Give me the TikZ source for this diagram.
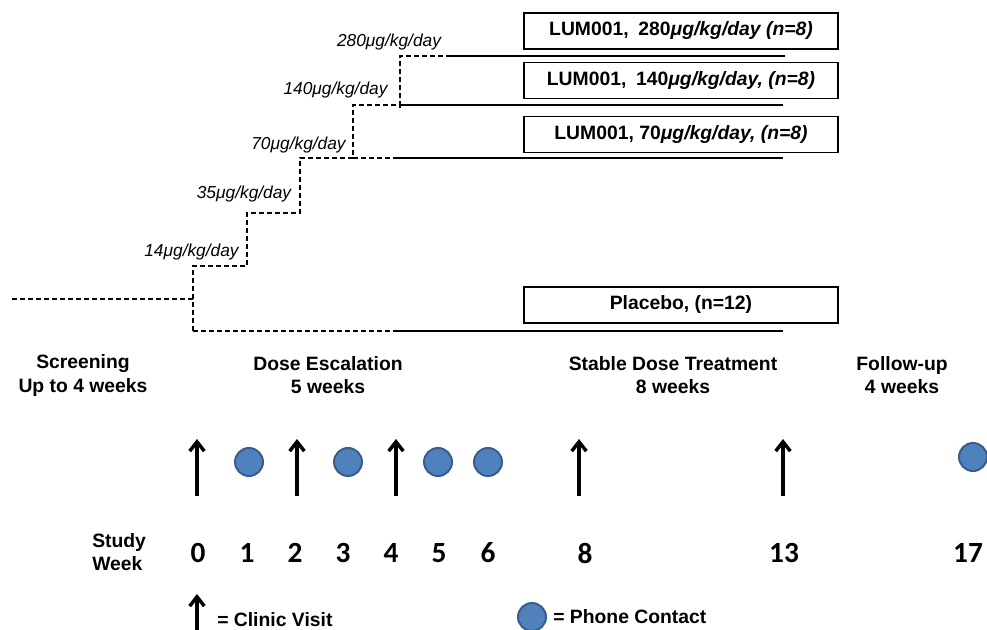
\documentclass[tikz,border=0pt]{standalone}
\usepackage{fontspec}
\setmainfont{Liberation Sans}
\newfontfamily\calib{Carlito}
\usetikzlibrary{arrows.meta}
\definecolor{phonefill}{RGB}{79,129,189}
\definecolor{phonedraw}{RGB}{56,93,138}
\begin{document}
\begin{tikzpicture}[x=0.75pt,y=-0.75pt,
  armbox/.style={draw, line width=1.3pt, minimum width=235.5pt, minimum height=27pt, inner sep=0pt,
    font=\fontsize{14.5}{17}\selectfont\bfseries},
  dosel/.style={font=\fontsize{13}{15}\selectfont\itshape, inner sep=0pt},
  phase/.style={font=\fontsize{14.5}{17.3}\selectfont\bfseries, align=center, inner sep=0pt},
  wk/.style={font=\calib\fontsize{22}{24}\selectfont\bfseries, inner sep=0pt},
  legend/.style={font=\fontsize{14.5}{17}\selectfont\bfseries, inner sep=0pt, anchor=west},
  stepline/.style={line width=1.1pt, dash pattern=on 4pt off 2pt},
  armline/.style={line width=1.2pt},
  visit/.style={line width=3.4pt, -{Straight Barb[length=7pt,width=11pt,line width=2.6pt]}},
  phone/.style={circle, fill=phonefill, draw=phonedraw, line width=1.5pt, minimum size=21pt, inner sep=0pt}]
\useasboundingbox (0,0) rectangle (987,630);

% arm boxes
\node[armbox] (b280) at (681,31) {LUM001,\enspace 280\textit{μg/kg/day (n=8)}};
\node[armbox] (b140) at (681,80.5) {LUM001,\enspace 140\textit{μg/kg/day, (n=8)}};
\node[armbox] (b70) at (681,134.5) {LUM001, 70\textit{μg/kg/day, (n=8)}};
\node[armbox] (bpl) at (681,305) {Placebo, (n=12)};

% step coordinates
\coordinate (scr) at (12,299);
\coordinate (p0) at (193,299);
\coordinate (pb) at (193,331);
\coordinate (q1) at (193,266);
\coordinate (q2) at (247,266);
\coordinate (q3) at (247,213);
\coordinate (q4) at (300,213);
\coordinate (q5) at (300,158);
\coordinate (q6) at (353,158);
\coordinate (q7) at (353,105);
\coordinate (q8) at (400,105);
\coordinate (q9) at (400,56);
\coordinate (q10) at (447,56);
\coordinate (q8b) at (400,108);
\coordinate (e280) at (785,56);
\coordinate (e140) at (783,105);
\coordinate (m70) at (395,158);
\coordinate (e70) at (783,158);
\coordinate (mpl) at (395,331);
\coordinate (epl) at (783,331);

\draw[stepline] (scr) -- (p0);
\draw[stepline] (pb) -- (q1) -- (q2) -- (q3) -- (q4) -- (q5) -- (q6) -- (q7) -- (q8) -- (q9) -- (q10);
\draw[stepline] (q8) -- (q8b);
\draw[stepline] (q6) -- (m70);
\draw[stepline] (pb) -- (mpl);
\draw[armline] (q10) -- (e280);
\draw[armline] (q8) -- (e140);
\draw[armline] (m70) -- (e70);
\draw[armline] (mpl) -- (epl);

% dose labels
\node[dosel] (d280) at (389,42) {280μg/kg/day};
\node[dosel] (d140) at (335.5,90) {140μg/kg/day};
\node[dosel] (d70) at (298.5,145) {70μg/kg/day};
\node[dosel] (d35) at (244,194) {35μg/kg/day};
\node[dosel] (d14) at (191.5,252) {14μg/kg/day};

% phases
\node[phase] (ph1) at (83,375.5) {Screening\\Up to 4 weeks};
\node[phase] (ph2) at (328,375.5) {Dose Escalation\\5 weeks};
\node[phase] (ph3) at (673,375.5) {Stable Dose Treatment\\8 weeks};
\node[phase] (ph4) at (902,375.5) {Follow-up\\4 weeks};

% visits
\foreach \n/\x in {0/197,2/297,4/396,8/579,13/783}{
  \coordinate (vb\n) at (\x,496);
  \coordinate (vt\n) at (\x,439);
  \draw[visit] (vb\n) -- (vt\n);
}
% phone contacts
\node[phone] (c1) at (249,462) {};
\node[phone] (c3) at (348,462) {};
\node[phone] (c5) at (438,462) {};
\node[phone] (c6) at (488,462) {};
\node[phone] (c17) at (973,457) {};

% study weeks
\node[phase, align=left, anchor=west] (sw) at (92,552.5) {Study\\Week};
\foreach \n/\x in {0/198,1/247,2/295,3/343,4/391,5/439,6/488,8/585,13/784,17/968}{
  \node[wk] (w\n) at (\x,553) {\n};
}

% legend
\coordinate (lvb) at (197,640);
\coordinate (lvt) at (197,594);
\draw[visit] (lvb) -- (lvt);
\node[legend] (lcv) at (217,620) {= Clinic Visit};
\node[phone] (lpc) at (532,617) {};
\node[legend] (lpt) at (553,617) {= Phone Contact};
\end{tikzpicture}
\end{document}
